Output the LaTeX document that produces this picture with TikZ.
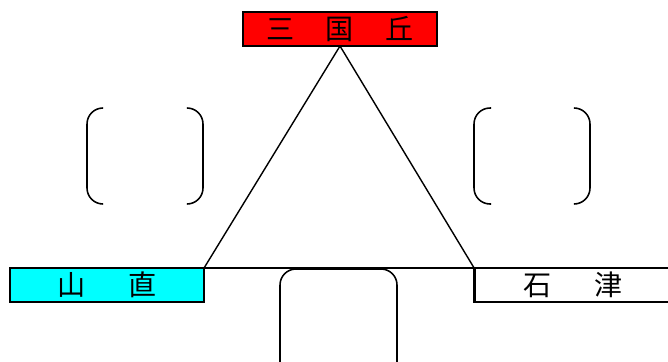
\documentclass[tikz,border=0pt]{standalone}
\usepackage{fontspec}
\newfontfamily\cjk{Noto Sans CJK JP}
\usepackage{tikz}
\usetikzlibrary{positioning}
\definecolor{aqua}{RGB}{0,255,255}
\definecolor{scarlet}{RGB}{255,0,0}
\tikzstyle{station} = [draw, line width=2pt, minimum width=4.85cm, minimum height=0.85cm, inner sep=0pt, outer sep=0pt, font=\cjk\fontsize{20}{20}\selectfont]
\tikzstyle{track} = [line width=1pt]
\tikzstyle{blank} = [line width=1.1pt, rounded corners=0.4cm]

\begin{document}
\begin{tikzpicture}[x=0.025cm,y=-0.025cm]
    \clip (0,0) rectangle (668,361);

    \node[station, fill=scarlet, anchor=north] (mikuni) at (340,12) {三\hspace{1.1em}国\hspace{1.1em}丘};
    \node[station, fill=aqua, anchor=north west] (yamachi) at (10,268) {山\hspace{1.5em}直};
    \node[station, fill=white, minimum width=4.95cm] (ishizu) [right = 6.75cm of yamachi] {石\hspace{1.5em}津};
    \coordinate (edge) at (668,268);

    \draw [track] (mikuni.south) -- (yamachi.north east);
    \draw [track] (mikuni.south) -- (ishizu.north west);

    % answer brackets
    \draw [blank] (103,108) -- (87,108) -- (87,204) -- (103,204);
    \draw [blank] (187,108) -- (203,108) -- (203,204) -- (187,204);
    \draw [blank] (491,108) -- (474,108) -- (474,204) -- (491,204);
    \draw [blank] (574,108) -- (590,108) -- (590,204) -- (574,204);
    \draw [blank] (280,269) rectangle (397,380);
    \draw [line width=2pt] (yamachi.north east) -- (edge);
\end{tikzpicture}
\end{document}
